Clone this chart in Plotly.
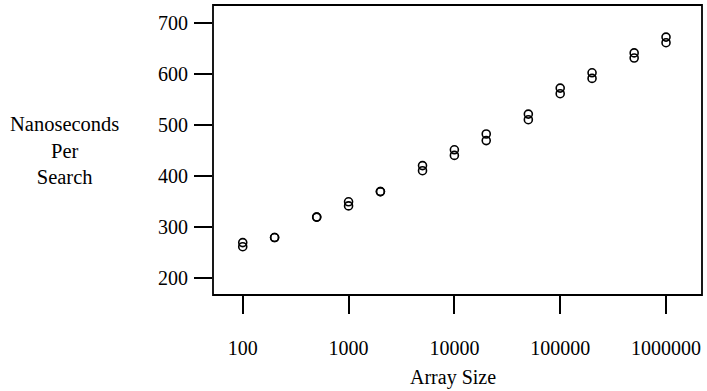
import plotly.graph_objects as go

array_sizes = [100, 200, 500, 1000, 2000, 5000, 10000, 20000, 50000,
               100000, 200000, 500000, 1000000]
trial_low = [262, 280, 320, 342, 370, 411, 441, 470, 511, 562, 592, 632, 662]
trial_high = [270, 280, 320, 350, 370, 421, 452, 483, 522, 573, 603, 642, 673]

x_ticks = [100, 1000, 10000, 100000, 1000000]
x_tick_labels = ["100", "1000", "10000", "100000", "1000000"]
y_ticks = [200, 300, 400, 500, 600, 700]

FONT = "Liberation Serif, Times New Roman, serif"

fig = go.Figure()
for ys in (trial_low, trial_high):
    fig.add_trace(go.Scatter(
        x=array_sizes, y=ys, mode="markers",
        marker=dict(symbol="circle-open", size=8, color="black",
                    line=dict(width=1.6, color="black")),
        showlegend=False, hoverinfo="x+y"))

fig.update_layout(
    width=707, height=391,
    margin=dict(l=213, r=5, t=5, b=96),
    paper_bgcolor="white", plot_bgcolor="white",
    font=dict(family=FONT, size=20, color="black"),
    xaxis=dict(type="log", range=[1.719, 6.340],
               tickvals=x_ticks, ticktext=x_tick_labels,
               ticks="outside", ticklen=18, tickwidth=1.5, tickcolor="black",
               showgrid=False, zeroline=False, showline=False,
               ticklabelstandoff=17, automargin=False,
               tickfont=dict(family=FONT, size=20, color="black")),
    yaxis=dict(range=[167.3, 735.9], tickvals=y_ticks,
               ticks="outside", ticklen=18, tickwidth=1.5, tickcolor="black",
               showgrid=False, zeroline=False, showline=False,
               ticklabelstandoff=2, automargin=False,
               tickfont=dict(family=FONT, size=20, color="black")),
    shapes=[dict(type="rect", xref="paper", yref="paper",
                 x0=0, x1=1, y0=0, y1=1,
                 line=dict(color="black", width=1.8))],
    annotations=[
        dict(text="Nanoseconds<br>Per<br>Search", xref="paper", yref="paper",
             x=-0.3027, y=0.5, xanchor="center", yanchor="middle",
             showarrow=False, align="center",
             font=dict(family=FONT, size=20.5, color="black")),
        dict(text="Array Size", xref="paper", yref="paper",
             x=0.491, y=-0.283, xanchor="center", yanchor="middle",
             showarrow=False,
             font=dict(family=FONT, size=20, color="black")),
    ],
)

fig.write_html("out.html",
               config={"displayModeBar": False},
               post_script="document.body.style.margin='0';"
                           "document.body.style.overflow='hidden';")
